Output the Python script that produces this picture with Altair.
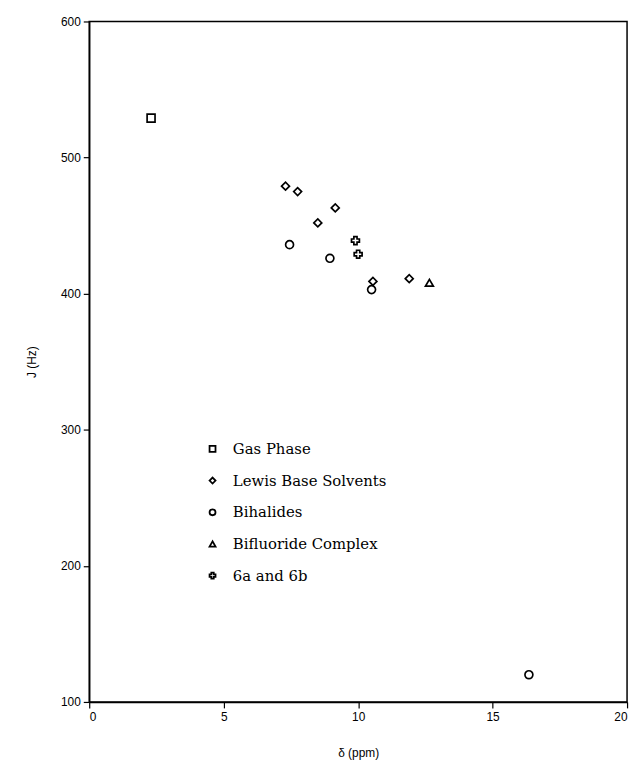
import altair as alt
import pandas as pd

categories = ["Gas Phase", "Lewis Base Solvents", "Bihalides", "Bifluoride Complex", "6a and 6b"]

gas_x = [2.3]
gas_j = [529]
lewis_x = [7.3, 7.75, 9.15, 8.5, 10.55, 11.9]
lewis_j = [479, 475, 463, 452, 409, 411]
bihal_x = [7.45, 8.95, 10.5, 16.35]
bihal_j = [436, 426, 403, 120]
biflu_x = [12.65]
biflu_j = [408]
six_x = [9.9, 10.0]
six_j = [439, 429]

x_ticks = [0, 5, 10, 15, 20]
y_ticks = [100, 200, 300, 400, 500, 600]

rows = []
for cat, xs, js in zip(categories,
                       [gas_x, lewis_x, bihal_x, biflu_x, six_x],
                       [gas_j, lewis_j, bihal_j, biflu_j, six_j]):
    for a, b in zip(xs, js):
        rows.append({"cat": cat, "d": a, "J": b})
df = pd.DataFrame(rows)

shapes = ["square", "diamond", "circle", "triangle-up", "cross"]

chart = alt.Chart(df).mark_point(
    filled=False, color="black", strokeWidth=1.7, size=64, opacity=1
).encode(
    x=alt.X("d:Q", title="δ (ppm)",
            scale=alt.Scale(domain=[0, 20], nice=False, zero=False),
            axis=alt.Axis(values=x_ticks, grid=False, tickSize=6, labelPadding=4,
                          titlePadding=25, format="d")),
    y=alt.Y("J:Q", title="J (Hz)",
            scale=alt.Scale(domain=[100, 600], nice=False, zero=False),
            axis=alt.Axis(values=y_ticks, grid=False, tickSize=6, labelPadding=3,
                          titlePadding=22, format="d")),
    shape=alt.Shape("cat:N", sort=categories,
                    scale=alt.Scale(domain=categories, range=shapes),
                    legend=alt.Legend(orient="none", legendX=117, legendY=424, title=None,
                                      labelFont="DejaVu Serif", labelFontSize=15,
                                      labelColor="black", labelOffset=13, rowPadding=16,
                                      symbolStrokeWidth=1.8, symbolFillColor="white",
                                      symbolStrokeColor="black", symbolSize=36,
                                      padding=0)),
).properties(
    width=543, height=687,
    autosize=alt.AutoSizeParams(type="none"),
    padding={"left": 82, "top": 10, "right": 6, "bottom": 55},
).configure_view(
    stroke="black", strokeWidth=1.5
).configure_axis(
    domainColor="black", domainWidth=1.5, tickColor="black", tickWidth=1.2,
    labelFont="Liberation Sans", labelFontSize=12, labelColor="black",
    titleFont="Liberation Sans", titleFontSize=12, titleFontWeight="normal",
    titleColor="black"
)

chart.save("out.html", embed_options={"renderer": "svg", "actions": False})
